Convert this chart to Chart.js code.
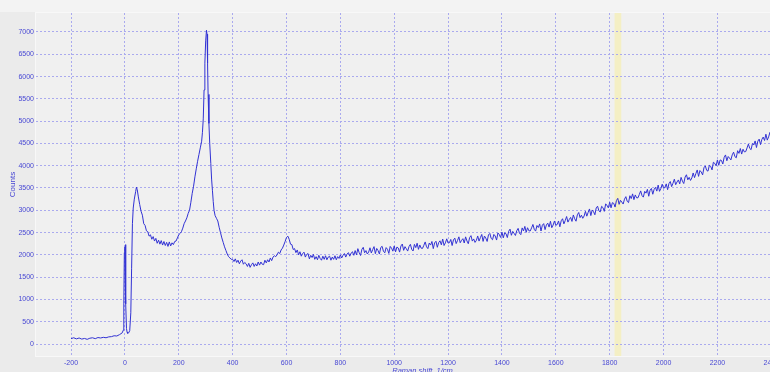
<!DOCTYPE html>
<html><head><meta charset="utf-8">
<script src="https://cdn.jsdelivr.net/npm/chart.js@4/dist/chart.umd.min.js"></script>
<style>html,body{margin:0;padding:0;overflow:hidden;background:#ececec;width:770px;height:372px}canvas{display:block}</style>
</head><body>
<canvas id="c" width="830" height="380"></canvas>
<script>
// Raman shift (1/cm)
const shift = [
 -200,-190,-180,-170,-160,-150,-140,-130,-120,-110,
 -100,-90,-80,-70,-60,-50,-40,-30,-20,-10,
 -6,-4,-2,0,1,2,3,4,6,8,10,14,18,
 22,25,28,31,35,40,43,46,50,55,
 60,65,70,75,80,85,90,95,100,105,
 110,115,120,125,130,135,140,145,150,155,
 160,165,170,175,180,
 185,190,195,200,205,210,215,220,225,230,
 235,240,245,250,255,260,265,270,275,280,
 285,
 288,291,294,297,300,303,305,307,309,312,
 315,319,322,325,328,331,335,340,345,350,
 355,360,365,370,375,380,385,390,395,
 400,405,410,415,420,425,430,435,440,445,
 450,455,460,465,470,475,480,485,490,495,
 500,505,510,515,520,525,530,535,540,545,
 550,555,560,565,570,575,580,585,590,595,
 600,605,610,615,620,625,630,635,640,645,
 650,655,660,665,670,675,680,685,690,695,
 700,705,710,715,720,725,730,735,740,745,
 750,755,760,765,770,775,780,785,790,795,
 800,805,810,815,820,825,830,835,840,845,
 850,
 855,860,865,870,875,880,885,890,895,900,
 905,910,915,920,925,930,935,940,945,950,
 955,960,965,970,975,980,985,990,995,1000,
 1005,1010,1015,1020,1025,1030,1035,1040,1045,1050,
 1055,1060,1065,1070,1075,1080,1085,1090,1095,1100,
 1105,1110,1115,1120,1125,1130,1135,1140,1145,1150,
 1155,1160,1165,1170,1175,1180,1185,1190,1195,1200,
 1205,1210,1215,1220,1225,1230,1235,1240,1245,1250,
 1255,1260,1265,1270,1275,1280,1285,1290,1295,1300,
 1305,1310,1315,1320,1325,1330,1335,1340,1345,1350,
 1355,1360,1365,1370,1375,1380,1385,1390,1395,1400,
 1405,1410,1415,1420,1425,1430,1435,1440,1445,1450,
 1455,1460,1465,1470,1475,1480,1485,1490,1495,1500,
 1505,1510,1515,1520,1525,1530,1535,1540,1545,1550,
 1555,1560,1565,1570,1575,1580,1585,1590,1595,1600,
 1605,1610,1615,1620,1625,1630,1635,1640,1645,1650,
 1655,1660,1665,1670,1675,1680,1685,1690,1695,1700,
 1705,1710,1715,1720,1725,1730,1735,1740,1745,1750,
 1755,1760,1765,1770,1775,1780,1785,1790,1795,1800,
 1805,1810,1815,1820,1825,1830,1835,1840,1845,1850,
 1855,1860,1865,1870,1875,1880,1885,1890,1895,1900,
 1905,1910,1915,1920,1925,1930,1935,1940,1945,1950,
 1955,1960,1965,1970,1975,1980,1985,1990,1995,2000,
 2005,2010,2015,2020,2025,2030,2035,2040,2045,2050,
 2055,2060,2065,2070,2075,2080,2085,2090,2095,2100,
 2105,2110,2115,2120,2125,2130,2135,2140,2145,2150,
 2155,2160,2165,2170,2175,2180,2185,2190,2195,2200,
 2205,2210,2215,2220,2225,2230,2235,2240,2245,2250,
 2255,2260,2265,2270,2275,2280,2285,2290,2295,2300,
 2305,2310,2315,2320,2325,2330,2335,2340,2345,2350,
 2355,2360,2365,2370,2375,2380,2385,2390,2395,2400,
 2405,2410,2415,2420
];
// Counts
const counts = [
 120,140,115,135,110,125,105,130,140,120,
 145,135,150,140,160,165,185,180,210,250,
 310,900,2050,2180,1500,2230,1800,900,350,270,240,250,300,
 700,1700,2700,3050,3250,3420,3520,3460,3300,3130,
 2980,2890,2700,2660,2540,2520,2420,2450,2350,2410,
 2310,2370,2260,2330,2240,2320,2220,2300,2210,2280,
 2190,2290,2200,2270,2230,
 2300,2310,2380,2450,2480,2520,2600,2700,2760,2830,
 2930,3000,3180,3380,3540,3750,3930,4100,4250,4400,
 4550,
 4750,5050,5700,6300,6800,7040,6950,6300,5600,4950,
 4500,4050,3700,3450,3200,3000,2880,2820,2760,2620,
 2500,2380,2280,2180,2100,2020,1960,1930,1900,
 1900,1850,1910,1830,1880,1800,1860,1890,1790,1830,
 1800,1740,1810,1720,1780,1820,1740,1800,1750,1840,
 1770,1840,1790,1780,1880,1820,1890,1840,1930,1870,
 1950,1980,1960,2000,2060,2030,2110,2150,2220,2300,
 2390,2420,2350,2240,2230,2120,2140,2050,2110,2000,
 2070,1970,2030,2060,1950,2010,2030,1910,1990,1940,
 2010,1900,1960,1890,1990,1920,1880,1970,1900,1980,
 1890,1950,1970,1880,1950,1900,1980,1890,1960,1920,
 2000,1930,1990,2030,1950,2020,2050,1970,2040,2070,
 1990,
 2096,2000,2139,2047,1986,2125,2169,2047,2096,2020,
 2062,2159,2041,2118,2185,2027,2144,2096,2018,2165,
 2192,2079,2046,2163,2125,2032,2189,2151,2083,2200,
 2068,2176,2154,2062,2200,2243,2101,2184,2137,2085,
 2188,2236,2124,2087,2235,2163,2261,2124,2222,2150,
 2145,2215,2290,2180,2140,2265,2220,2300,2140,2270,
 2305,2170,2275,2315,2225,2355,2210,2270,2360,2265,
 2273,2346,2209,2337,2375,2253,2321,2404,2272,2325,
 2363,2266,2404,2312,2250,2388,2431,2309,2357,2280,
 2325,2424,2309,2388,2458,2302,2422,2376,2301,2450,
 2480,2369,2339,2458,2423,2332,2492,2456,2391,2510,
 2382,2494,2476,2388,2530,2577,2439,2526,2483,2435,
 2542,2594,2486,2453,2605,2537,2639,2506,2608,2540,
 2536,2606,2682,2572,2533,2658,2614,2694,2535,2665,
 2701,2566,2672,2712,2623,2753,2609,2669,2760,2665,
 2680,2760,2630,2765,2810,2695,2770,2860,2735,2795,
 2840,2750,2895,2810,2755,2900,2950,2835,2890,2820,
 2871,2977,2868,2954,3030,2881,3007,2968,2899,3055,
 3091,2987,2963,3089,3060,2976,3142,3113,3054,3180,
 3055,3171,3156,3072,3217,3268,3133,3224,3184,3140,
 3250,3306,3201,3172,3327,3263,3368,3239,3344,3280,
 3280,3355,3435,3330,3295,3425,3385,3470,3315,3450,
 3490,3360,3470,3515,3430,3565,3425,3490,3585,3495,
 3511,3592,3463,3599,3645,3531,3607,3698,3574,3635,
 3681,3592,3738,3654,3600,3746,3797,3683,3739,3670,
 3726,3837,3733,3824,3905,3761,3892,3858,3794,3955,
 3996,3897,3878,4009,3985,3906,4077,4053,3999,4130,
 4009,4129,4118,4038,4187,4242,4111,4206,4170,4130,
 4244,4304,4203,4178,4337,4277,4386,4261,4370,4310,
 4317,4399,4486,4388,4360,4497,4464,4556,4408,4550,
 4597,4474,4591,4643,4565,4707,4574,4646,4748,4665,
 4687,4774,4651,4793
];
const xTicks = [-200,0,200,400,600,800,1000,1200,1400,1600,1800,2000,2200,2400];
const yTicks = [0,500,1000,1500,2000,2500,3000,3500,4000,4500,5000,5500,6000,6500,7000];
const highlightBand = [1818, 1843];
const xTitle = 'Raman shift, 1/cm';
const yTitle = 'Counts';

const tickColor = '#4848d4';
const gridColor = '#aaaaee';
const fontFam = "'Liberation Sans', Arial, sans-serif";

const bgPlugin = {
  id: 'bg',
  beforeDraw(chart) {
    const {ctx, chartArea: a, scales: {x}} = chart;
    ctx.save();
    ctx.fillStyle = '#ebebeb';
    ctx.fillRect(0, 0, chart.width, chart.height);
    ctx.fillStyle = '#f3f3f3';
    ctx.fillRect(0, 0, chart.width, a.top - 1);
    ctx.fillStyle = '#f8f8f8';
    ctx.fillRect(a.left - 1, a.top - 1, a.right - a.left + 2, a.bottom - a.top + 2);
    ctx.fillStyle = '#f0f0f0';
    ctx.fillRect(a.left, a.top, a.right - a.left, a.bottom - a.top);
    const b0 = x.getPixelForValue(highlightBand[0]);
    const b1 = x.getPixelForValue(highlightBand[1]);
    ctx.fillStyle = '#f4efc4';
    ctx.fillRect(b0, a.top, b1 - b0, a.bottom - a.top);
    ctx.restore();
  }
};

new Chart(document.getElementById('c').getContext('2d'), {
  type: 'line',
  data: {
    datasets: [{
      data: shift.map((s, i) => ({x: s, y: counts[i]})),
      borderColor: '#3232d4',
      borderWidth: 1,
      pointRadius: 0,
      tension: 0,
      fill: false
    }]
  },
  options: {
    responsive: false,
    animation: false,
    devicePixelRatio: 1,
    layout: {padding: {top: 13, right: 21, left: 0, bottom: 0}},
    plugins: {legend: {display: false}, tooltip: {enabled: false}},
    scales: {
      x: {
        type: 'linear', min: -330, max: 2540,
        afterBuildTicks: s => { s.ticks = xTicks.map(v => ({value: v})); },
        afterFit: s => { s.height = 24; },
        grid: {color: gridColor, lineWidth: 1, drawTicks: false},
        border: {display: false, dash: [2, 2]},
        ticks: {color: tickColor, font: {family: fontFam, size: 7}, padding: 3, maxRotation: 0, autoSkip: false, callback: v => String(v)},
        title: {display: true, text: xTitle, color: tickColor, font: {family: fontFam, size: 7.5, style: 'italic'}, padding: {top: 0, bottom: 5}}
      },
      y: {
        type: 'linear', min: -269, max: 7426,
        afterBuildTicks: s => { s.ticks = yTicks.map(v => ({value: v})); },
        afterFit: s => { s.width = 36; },
        grid: {color: gridColor, lineWidth: 1, drawTicks: false},
        border: {display: false, dash: [2, 2]},
        ticks: {color: tickColor, font: {family: fontFam, size: 7}, padding: 2, autoSkip: false, callback: v => String(v)},
        title: {display: true, text: yTitle, color: tickColor, font: {family: fontFam, size: 8}, padding: {top: 8, bottom: 0}}
      }
    }
  },
  plugins: [bgPlugin]
});
</script>
</body></html>
